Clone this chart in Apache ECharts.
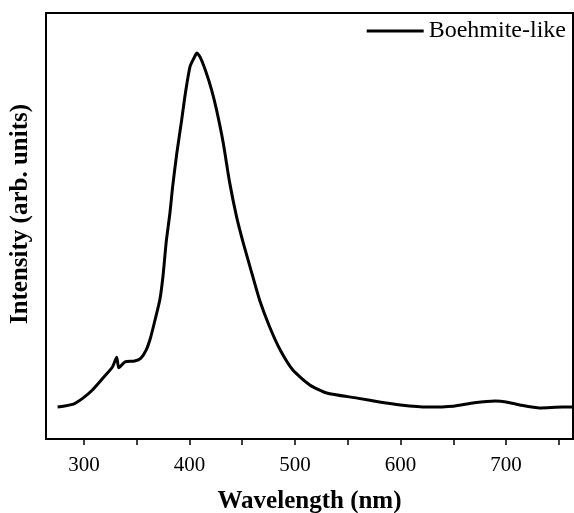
<!DOCTYPE html>
<html>
<head>
<meta charset="utf-8">
<script src="https://cdn.jsdelivr.net/npm/echarts@6/dist/echarts.min.js"></script>
<style>html,body{margin:0;padding:0;background:#fff}#c{width:574px;height:513px}</style>
</head>
<body>
<div id="c"></div>
<script>
var wavelength = [275,290,299,308,318,327,331,333,339,348,354,359,363,367,372,375,378,381.5,384,388,392.6,396,400.5,404,407,410,415,421,425.7,432,438,444.7,451,459,467,476,486,498,514,530,559,580,600,625,650,670,690,700,713,732,754,763];
var intensity = [7.5,8.2,9.6,11.5,14.3,16.9,19.2,16.7,18.1,18.3,19.0,20.9,23.7,27.6,32.8,38.5,46.4,53.1,59.2,67.1,74.9,81.0,87.4,89.3,90.6,89.7,86.6,81.9,77.2,69.5,60.3,52.1,46.0,39.0,32.2,26.3,20.9,16.2,12.7,10.8,9.6,8.7,8.0,7.5,7.7,8.5,8.9,8.7,8.0,7.3,7.5,7.5];
var tickValues = [300,350,400,450,500,550,600,650,700,750];
var labelValues = [300,400,500,600,700];
var seriesName = 'Boehmite-like';

var data = wavelength.map(function(w,i){return [w,intensity[i]];});
var font = 'Liberation Serif, Times New Roman, serif';
var chart = echarts.init(document.getElementById('c'));
chart.setOption({
  backgroundColor:'#fff',
  animation:false,
  grid:{left:46,top:13,right:1,bottom:74,containLabel:false,outerBoundsMode:'none',show:true,borderColor:'#000',borderWidth:2,backgroundColor:'transparent'},
  legend:{right:3,top:14,icon:'rect',itemWidth:57,itemHeight:3,itemGap:8,
    textStyle:{fontFamily:font,fontSize:24,color:'#000'},data:[seriesName]},
  xAxis:{type:'value',min:264,max:763.5,
    name:'Wavelength (nm)',nameLocation:'middle',nameGap:50,
    nameTextStyle:{fontFamily:font,fontSize:25,fontWeight:'bold',color:'#000'},
    axisLine:{lineStyle:{color:'#000',width:2}},
    axisTick:{show:true,length:6,lineStyle:{color:'#000',width:1.5},customValues:tickValues},
    axisLabel:{fontFamily:font,fontSize:21,color:'#000',margin:16,customValues:labelValues},
    splitLine:{show:false}},
  yAxis:{type:'value',min:0,max:100,
    name:'Intensity (arb. units)',nameLocation:'middle',nameGap:13,
    nameTextStyle:{fontFamily:font,fontSize:25,fontWeight:'bold',color:'#000',padding:[0,0,0,24]},
    axisLine:{show:true,lineStyle:{color:'#000',width:2}},
    axisTick:{show:false},axisLabel:{show:false},splitLine:{show:false}},
  series:[{name:seriesName,type:'line',data:data,smooth:0.2,symbol:'none',
    lineStyle:{color:'#000',width:3,join:'round'},itemStyle:{color:'#000'}}]
});
</script>
</body>
</html>
